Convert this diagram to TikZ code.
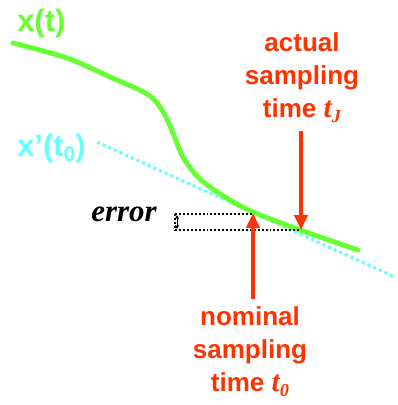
\documentclass[tikz,border=0pt]{standalone}
\usepackage{fontspec}
\setmainfont{Liberation Sans}
\newfontfamily\timesfont{Liberation Serif}
\usetikzlibrary{arrows.meta}
\definecolor{curvegreen}{RGB}{102,255,51}
\definecolor{tangcyan}{RGB}{102,255,255}
\definecolor{markred}{RGB}{255,51,0}
\newcommand{\tsamp}[1]{{\timesfont\bfseries\itshape\fontsize{21}{21}\selectfont t\raisebox{-0.35ex}{\fontsize{13}{13}\selectfont #1}}}
\begin{document}
\begin{tikzpicture}[
    x=0.025cm, y=-0.025cm,
    curvelbl/.style={font=\fontsize{22}{22}\selectfont\bfseries, text=curvegreen, inner sep=0pt},
    tanglbl/.style={font=\fontsize{22}{22}\selectfont\bfseries, text=tangcyan, inner sep=0pt},
    errlbl/.style={font=\timesfont\fontsize{22}{22}\selectfont\bfseries\itshape, inner sep=0pt},
    timelbl/.style={font=\fontsize{18.5}{23.5}\selectfont\bfseries, text=markred, align=center, inner sep=0pt, outer sep=0.2cm},
    signal/.style={curvegreen, line width=3.5pt, line cap=round},
    tangent/.style={tangcyan, line width=2.2pt, dash pattern=on 2.2pt off 2.2pt},
    errbox/.style={black, line width=1.4pt, dash pattern=on 1.4pt off 1.4pt},
    markarr/.style={-{Triangle[width=9.2pt, length=10.6pt]}, markred, line width=2.8pt},
  ]
    \useasboundingbox (0,0) rectangle (397,405);
    % --- labels ---
    \node[curvelbl, anchor=base west] (xt) at (17,32) {x(t)};
    \node[tanglbl, anchor=base west] (xtan) at (17,157) {x’(t\raisebox{-0.3ex}{\fontsize{15}{15}\selectfont 0})};
    \node[errlbl, anchor=base east] (err) at (157,221) {error};
    \node[timelbl, anchor=north] (actual) at (302,25) {actual\\sampling\\time \tsamp{J}};
    \node[timelbl, anchor=north] (nominal) at (250,299) {nominal\\sampling\\time \tsamp{0}};

    % --- tangent and signal ---
    \coordinate (tanA) at (97,142);
    \coordinate (tanB) at (395,277);
    \draw[tangent] (tanA) -- (tanB);
    \draw[signal] plot[smooth, tension=0.55] coordinates {
      (13,43) (67,58) (110,77) (147,94) (162,110) (173,133) (183,157)
      (200,179) (225,197) (253,212) (300,230) (358,250)};

    % --- error box ---
    \coordinate (tnom) at (253,213);
    \coordinate (tact) at (301,230);
    \coordinate (etop) at (175,214);
    \coordinate (ebot) at (175,230);
    \coordinate (aup) at (177,215);
    \coordinate (adown) at (177,229);
    \draw[errbox] (etop) -- (etop -| tnom);
    \draw[errbox] (ebot) -- (ebot -| tact);
    \draw[errbox] (etop) -- (ebot);
    \draw[{Stealth[length=3pt,width=3pt]}-{Stealth[length=3pt,width=3pt]}, line width=0.6pt] (aup) -- (adown);

    % --- sampling arrows ---
    \draw[markarr] (actual.south -| tact) -- (tact);
    \draw[markarr] (nominal.north -| tnom) -- (tnom);
\end{tikzpicture}
\end{document}
